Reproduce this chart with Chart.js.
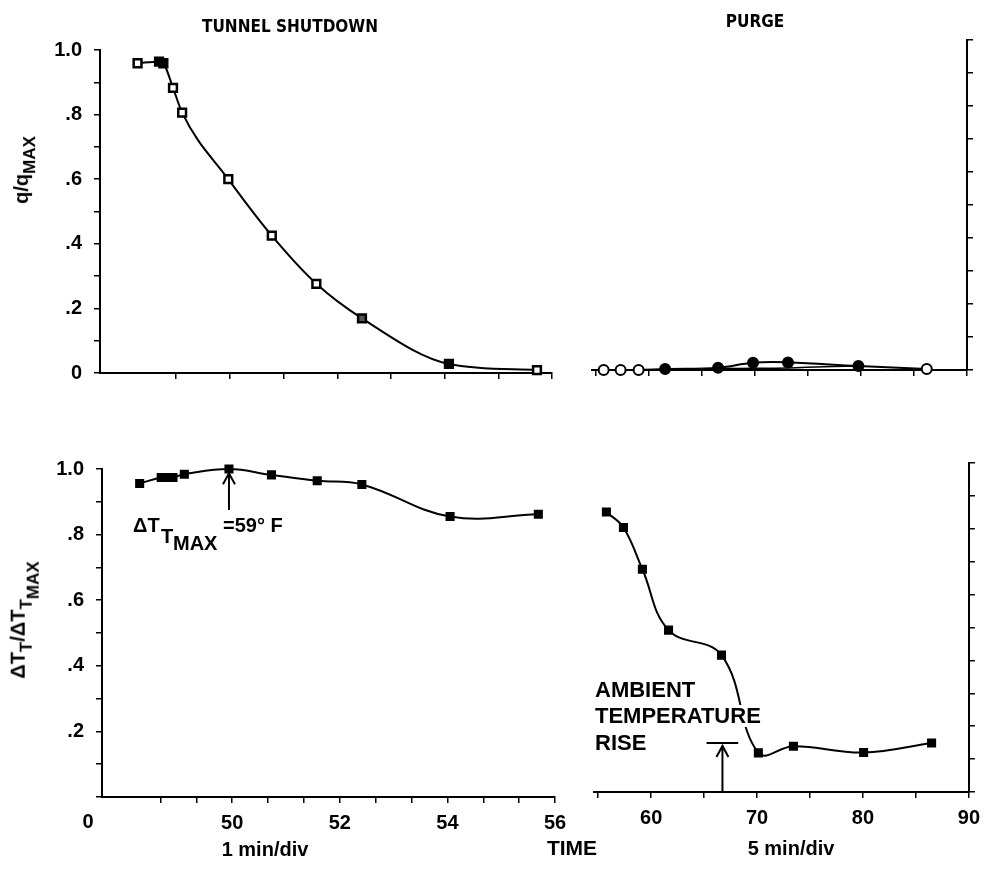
<!DOCTYPE html>
<html>
<head>
<meta charset="utf-8">
<script src="https://cdn.jsdelivr.net/npm/chart.js@4.4.1/dist/chart.umd.min.js"></script>
<style>
    body { margin: 0; background: #fff; }
    #fig { position: relative; width: 988px; height: 869px; overflow: hidden;
           font-family: "Liberation Sans", Arial, sans-serif; font-weight: bold; color: #000; }
    #fig canvas { position: absolute; }
    .txt { position: absolute; white-space: nowrap; }
    .narrow { font-family: "Liberation Sans Narrow", "DejaVu Sans Condensed", "Liberation Sans", sans-serif; }
    .ytitle { position: absolute; white-space: nowrap; font-size: 20px;
              transform: translate(-50%, -50%) rotate(-90deg); }
    .ytitle sub { font-size: 0.85em; vertical-align: -0.4em; }
    .ytitle sub sub { font-size: 1em; }
</style>
</head>
<body>
<div id="fig">
    <canvas id="qShut" width="565" height="400" style="left:0;top:0"></canvas>
    <canvas id="qPurge" width="428" height="400" style="left:560px;top:0"></canvas>
    <canvas id="tShut" width="575" height="439" style="left:0;top:430px"></canvas>
    <canvas id="tPurge" width="428" height="439" style="left:560px;top:430px"></canvas>
</div>
<script>
// q/qmax during tunnel shutdown (time in min)
const shutTimeQ = [48.28, 48.68, 48.76, 48.94, 49.11, 49.97, 50.78, 51.61, 52.46, 54.08, 55.72];
const shutQ = [0.959, 0.964, 0.959, 0.883, 0.806, 0.600, 0.425, 0.276, 0.169, 0.028, 0.009];

// q/qmax during purge
const purgeTimeQ = [55.7, 57.3, 59.0, 61.5, 66.5, 69.8, 73.1, 79.75, 86.2];
const purgeQ = [0.0, 0.0, 0.0, 0.003, 0.007, 0.022, 0.023, 0.012, 0.003];
const purgeTimeQLow = [66.5, 70.0, 73.1, 76.5, 79.75];
const purgeQLow = [0.005, 0.005, 0.006, 0.010, 0.012];

// dT/dTmax during tunnel shutdown
const shutTimeT = [48.28, 48.68, 48.79, 48.90, 49.11, 49.94, 50.73, 51.58, 52.41, 54.05, 55.69];
const shutT = [0.956, 0.974, 0.974, 0.974, 0.984, 1.0, 0.982, 0.964, 0.953, 0.855, 0.862];

// dT/dTmax during purge
const purgeTimeT = [55.77, 57.38, 59.17, 61.64, 66.64, 70.12, 73.43, 80.06, 86.48];
const purgeT = [0.851, 0.804, 0.677, 0.492, 0.416, 0.119, 0.139, 0.120, 0.149];

// tick labels
const yTickLabels = ['0', '.2', '.4', '.6', '.8', '1.0'];
const shutTickLabels = [50, 52, 54, 56];
const purgeTickLabels = [60, 70, 80, 90];

// annotation arrows (data units)
const peakArrow = { x: 49.94, from: 0.875, to: 0.99 };
const riseArrow = { x: 66.73, from: 0, to: 0.143, barFrom: 65.23, barTo: 68.22 };

Chart.defaults.font.family = '"Liberation Sans", Arial, sans-serif';
Chart.defaults.color = '#000';

function steps(a, b, d) {
    var out = [];
    for (var v = a; v <= b + 1e-6; v += d) out.push(v);
    return out;
}

function pts(xs, ys) {
    return xs.map(function (x, i) { return { x: x, y: ys[i] }; });
}

function hasLabel(list, v) {
    return list.some(function (l) { return Math.abs(l - v) < 1e-6; });
}

// draws an upward arrow, optionally with a bar on top
function arrowPlugin(a) {
    return {
        id: 'arrow',
        afterDatasetsDraw: function (chart) {
            var ctx = chart.ctx, xs = chart.scales.x, ys = chart.scales.y;
            var x = xs.getPixelForValue(a.x);
            var y0 = ys.getPixelForValue(a.from), y1 = ys.getPixelForValue(a.to);
            ctx.save();
            ctx.strokeStyle = '#000';
            ctx.lineWidth = 2;
            ctx.beginPath();
            ctx.moveTo(x, y0);
            ctx.lineTo(x, y1);
            ctx.moveTo(x - 6, y1 + 12);
            ctx.lineTo(x, y1 + 1);
            ctx.lineTo(x + 6, y1 + 12);
            if (a.barFrom !== undefined) {
                ctx.moveTo(xs.getPixelForValue(a.barFrom), y1 - 2);
                ctx.lineTo(xs.getPixelForValue(a.barTo), y1 - 2);
            }
            ctx.stroke();
            ctx.restore();
        }
    };
}

function makePanel(id, p) {
    var axisGrid = { drawOnChartArea: false, drawTicks: true, tickLength: 6, color: '#000', lineWidth: 1.5 };
    var axisBorder = { display: true, color: '#000', width: 2 };
    var ch = document.getElementById(id);
    var W = ch.width, H = ch.height;
    var yWidth = p.yRight ? 14 : p.area.l;
    var padding = {
        top: p.area.t,
        left: p.yRight ? p.area.l : 0,
        right: W - p.area.r - (p.yRight ? yWidth : 0),
        bottom: H - p.area.b - p.xHeight
    };
    new Chart(ch, {
        type: 'line',
        data: { datasets: p.datasets },
        options: {
            responsive: false,
            animation: false,
            devicePixelRatio: 1,
            layout: { padding: padding },
            plugins: { legend: { display: false }, tooltip: { enabled: false } },
            scales: {
                x: {
                    type: 'linear',
                    min: p.xMin, max: p.xMax,
                    grid: axisGrid, border: axisBorder,
                    afterBuildTicks: function (s) {
                        s.ticks = p.xTicks.map(function (v) { return { value: v }; });
                    },
                    afterFit: function (s) { s.height = p.xHeight; },
                    ticks: {
                        display: !!p.xLabels,
                        autoSkip: false, maxRotation: 0, padding: 8,
                        font: { size: 20, weight: 'bold' },
                        callback: function (v) {
                            return p.xLabels && hasLabel(p.xLabels, v) ? String(Math.round(v)) : '';
                        }
                    }
                },
                y: {
                    type: 'linear',
                    position: p.yRight ? 'right' : 'left',
                    min: 0, max: 1,
                    grid: axisGrid, border: axisBorder,
                    afterFit: function (s) { s.width = yWidth; },
                    ticks: {
                        display: !p.yRight,
                        stepSize: 0.1, padding: 12,
                        font: { size: 20, weight: 'bold' },
                        callback: function (v) {
                            var k = Math.round(v * 10);
                            if (k % 2) return '';
                            if (k === 0 && p.hideZero) return '';
                            return yTickLabels[k / 2];
                        }
                    }
                }
            }
        },
        plugins: p.plugins || []
    });
}

function series(xs, ys, o) {
    return Object.assign({
        data: pts(xs, ys),
        borderColor: '#000',
        borderWidth: 2,
        tension: 0.4,
        pointStyle: 'rect',
        pointRadius: 6,
        pointBorderColor: '#000',
        pointBorderWidth: 2,
        pointBackgroundColor: '#000',
        clip: false
    }, o);
}

// TUNNEL SHUTDOWN, q/qmax
makePanel('qShut', {
    area: { l: 100, t: 50, r: 552, b: 373 },
    xHeight: 12,
    xMin: 47.58, xMax: 56,
    xTicks: steps(49, 56, 1),
    datasets: [series(shutTimeQ, shutQ, {
        cubicInterpolationMode: 'monotone',
        pointRadius: 5.5, pointBorderWidth: 2.5,
        pointBackgroundColor: ['#fff', '#000', '#000', '#fff', '#fff', '#fff', '#fff', '#fff', '#555', '#000', '#fff']
    })]
});

// PURGE, q/qmax
makePanel('qPurge', {
    area: { l: 32, t: 40, r: 407, b: 370 },
    xHeight: 12, yRight: true,
    xMin: 54.6, xMax: 90,
    xTicks: steps(55, 90, 5),
    datasets: [
        series(purgeTimeQ, purgeQ, {
            pointStyle: 'circle', pointRadius: 5,
            pointBackgroundColor: ['#fff', '#fff', '#fff', '#000', '#000', '#000', '#000', '#000', '#fff']
        }),
        series(purgeTimeQLow, purgeQLow, { pointRadius: 0, borderWidth: 1.5 })
    ]
});

// TUNNEL SHUTDOWN, dT/dTmax
makePanel('tShut', {
    area: { l: 102, t: 39, r: 555, b: 367 },
    xHeight: 40, hideZero: true,
    xMin: 47.58, xMax: 56,
    xTicks: steps(48 + 2 / 3, 56, 2 / 3),
    xLabels: shutTickLabels,
    datasets: [series(shutTimeT, shutT, { pointRadius: 5 })],
    plugins: [arrowPlugin(peakArrow)]
});

// PURGE, dT/dTmax
makePanel('tPurge', {
    area: { l: 34, t: 33, r: 413, b: 362 },
    xHeight: 40, yRight: true,
    xMin: 54.6, xMax: 90,
    xTicks: steps(55, 90, 5),
    xLabels: purgeTickLabels,
    datasets: [series(purgeTimeT, purgeT, { pointRadius: 5 })],
    plugins: [arrowPlugin(riseArrow)]
});

// text placed by baseline
function addText(html, x, base, size, align, cls) {
    var d = document.createElement('div');
    d.className = 'txt' + (cls ? ' ' + cls : '');
    d.innerHTML = html;
    d.style.fontSize = size + 'px';
    d.style.lineHeight = size + 'px';
    d.style.left = x + 'px';
    d.style.top = (base - Math.round(size * 0.86)) + 'px';
    if (align === 'center') d.style.transform = 'translateX(-50%)';
    document.getElementById('fig').appendChild(d);
    return d;
}

addText('TUNNEL SHUTDOWN', 290, 33, 17, 'center', 'narrow');
addText('PURGE', 755, 28, 17, 'center', 'narrow');
addText('0', 88, 828, 20, 'center');
addText('1 min/div', 265, 856, 20, 'center');
addText('TIME', 572, 855, 21, 'center');
addText('5 min/div', 791, 855, 20, 'center');

addText('&Delta;T', 133, 532, 20);
addText('T', 161, 543, 20);
addText('MAX', 173, 550, 20);
addText('=59&deg; F', 223, 532, 20);

addText('AMBIENT', 595, 698, 22).style.background = '#fff';
addText('TEMPERATURE', 595, 724, 22).style.background = '#fff';
addText('RISE', 595, 751, 22).style.background = '#fff';

var fig = document.getElementById('fig');
var yt1 = document.createElement('div');
yt1.className = 'ytitle';
yt1.style.left = '25px';
yt1.style.top = '170px';
yt1.innerHTML = 'q/q<sub>MAX</sub>';
fig.appendChild(yt1);

var yt2 = document.createElement('div');
yt2.className = 'ytitle';
yt2.style.left = '25px';
yt2.style.top = '620px';
yt2.innerHTML = '&Delta;T<sub>T</sub>/&Delta;T<sub>T<sub>MAX</sub></sub>';
fig.appendChild(yt2);
</script>
</body>
</html>
